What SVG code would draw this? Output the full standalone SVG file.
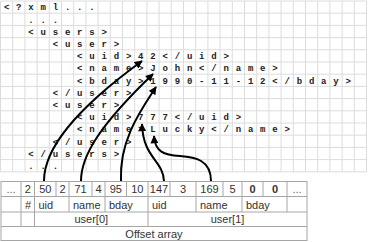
<svg xmlns="http://www.w3.org/2000/svg" width="374" height="242" viewBox="0 0 374 242">
<style>
.grid{fill:none;stroke:#dcdcdc;stroke-width:1}
.xml{font-family:"Liberation Mono","DejaVu Sans Mono",monospace;font-size:9px;font-weight:bold;fill:#222;text-anchor:middle}
.tb{fill:none;stroke:#a6a6a6;stroke-width:1}
.tt{font-family:"Liberation Sans",Arial,sans-serif;font-size:11px;fill:#333}
.tc{text-anchor:middle}
.b{font-weight:bold}
.dim{fill:#666}
.arr{fill:none;stroke:#000;stroke-width:2;marker-end:url(#ah)}
</style>
<defs>
<marker id="ah" viewBox="0 0 10 10" refX="9" refY="5" markerWidth="9" markerHeight="8" markerUnits="userSpaceOnUse" orient="auto">
<path d="M0,0 L10,5 L0,10 z" fill="#000"/>
</marker>
</defs>
<rect width="374" height="242" fill="#fff"/>
<g id="xml-grid">
<path class="grid" d="M0.5,1V171.8M12.7,1V171.8M24.9,1V171.8M37.1,1V171.8M49.3,1V171.8M61.5,1V171.8M73.7,1V171.8M85.9,1V171.8M98.1,1V171.8M110.3,1V171.8M122.5,1V171.8M134.7,1V171.8M146.9,1V171.8M159.1,1V171.8M171.3,1V171.8M183.5,1V171.8M195.7,1V171.8M207.9,1V171.8M220.1,1V171.8M232.3,1V171.8M244.5,1V171.8M256.7,1V171.8M268.9,1V171.8M281.1,1V171.8M293.3,1V171.8M305.5,1V171.8M317.7,1V171.8M329.9,1V171.8M342.1,1V171.8M354.3,1V171.8M366.5,1V171.8
M0.5,1H366.5M0.5,13.2H366.5M0.5,25.4H366.5M0.5,37.6H366.5M0.5,49.8H366.5M0.5,62H366.5M0.5,74.2H366.5M0.5,86.4H366.5M0.5,98.6H366.5M0.5,110.8H366.5M0.5,123H366.5M0.5,135.2H366.5M0.5,147.4H366.5M0.5,159.6H366.5M0.5,171.8H366.5"/>
</g>
<g id="xml-text" class="xml">
<text x="6.6 18.8 31 43.2 55.4 67.6 79.8 92" y="10.3">&lt;?xml...</text>
<text x="31 43.2 55.4" y="22.5">...</text>
<text x="31 43.2 55.4 67.6 79.8 92 104.2" y="34.7">&lt;users&gt;</text>
<text x="55.4 67.6 79.8 92 104.2 116.4" y="46.9">&lt;user&gt;</text>
<text x="79.8 92 104.2 116.4 128.6 140.8 153 165.2 177.4 189.6 201.8 214 226.2" y="59.1">&lt;uid&gt;42&lt;/uid&gt;</text>
<text x="79.8 92 104.2 116.4 128.6 140.8 153 165.2 177.4 189.6 201.8 214 226.2 238.4 250.6 262.8 275" y="71.3">&lt;name&gt;John&lt;/name&gt;</text>
<text x="79.8 92 104.2 116.4 128.6 140.8 153 165.2 177.4 189.6 201.8 214 226.2 238.4 250.6 262.8 275 287.2 299.4 311.6 323.8 336 348.2" y="83.5">&lt;bday&gt;1990-11-12&lt;/bday&gt;</text>
<text x="55.4 67.6 79.8 92 104.2 116.4 128.6" y="95.7">&lt;/user&gt;</text>
<text x="55.4 67.6 79.8 92 104.2 116.4" y="107.9">&lt;user&gt;</text>
<text x="79.8 92 104.2 116.4 128.6 140.8 153 165.2 177.4 189.6 201.8 214 226.2 238.4" y="120.1">&lt;uid&gt;777&lt;/uid&gt;</text>
<text x="79.8 92 104.2 116.4 128.6 140.8 153 165.2 177.4 189.6 201.8 214 226.2 238.4 250.6 262.8 275 287.2" y="132.3">&lt;name&gt;Lucky&lt;/name&gt;</text>
<text x="55.4 67.6 79.8 92 104.2 116.4 128.6" y="144.5">&lt;/user&gt;</text>
<text x="31 43.2 55.4 67.6 79.8 92 104.2 116.4" y="156.7">&lt;/users&gt;</text>
<text x="31 43.2 55.4" y="168.9">...</text>
</g>
<g id="offset-table">
<rect class="tb" x="1" y="181.5" width="306" height="59"/>
<path class="tb" d="M1,196.5H307M1,212H307M1,226.5H307
M21,181.5V226.5M34.5,181.5V226.5M56,181.5V196.5M69,181.5V212M92,181.5V196.5M105,181.5V212M126.5,181.5V196.5M148,181.5V226.5M170,181.5V196.5M196,181.5V212M223,181.5V196.5M242,181.5V212M263,181.5V196.5M287,181.5V212"/>
<g id="row-values" class="tt tc">
<text x="11" y="193" class="dim">...</text>
<text x="27.75" y="193">2</text>
<text x="45.25" y="193">50</text>
<text x="62.5" y="193">2</text>
<text x="80.5" y="193">71</text>
<text x="98.5" y="193">4</text>
<text x="115.75" y="193">95</text>
<text x="137.25" y="193">10</text>
<text x="159" y="193">147</text>
<text x="183" y="193">3</text>
<text x="209.5" y="193">169</text>
<text x="232.5" y="193">5</text>
<text x="252.5" y="193" class="b">0</text>
<text x="275" y="193" class="b">0</text>
<text x="297" y="193" class="dim">...</text>
</g>
<g id="row-fields" class="tt">
<text x="25" y="208.5">#</text>
<text x="38.5" y="208.5">uid</text>
<text x="73" y="208.5">name</text>
<text x="109" y="208.5">bday</text>
<text x="152" y="208.5">uid</text>
<text x="200" y="208.5">name</text>
<text x="246" y="208.5">bday</text>
</g>
<g id="row-users" class="tt tc">
<text x="91.25" y="223">user[0]</text>
<text x="227.5" y="223">user[1]</text>
</g>
<g id="row-caption" class="tt tc">
<text x="154" y="237.5">Offset array</text>
</g>
</g>
<g id="connectors">
<path class="arr" d="M44,181 C44,150 72,112 142,61"/>
<path class="arr" d="M81,181 C81,155 101,124 153,74"/>
<path class="arr" d="M121,181 C119,140 141,110 156,87"/>
<path class="arr" d="M164,181 C163,160 143,158 142,124"/>
<path class="arr" d="M211,181 C211,160 195,157 180,156 C164,155 155,152 154,136"/>
</g>
</svg>
